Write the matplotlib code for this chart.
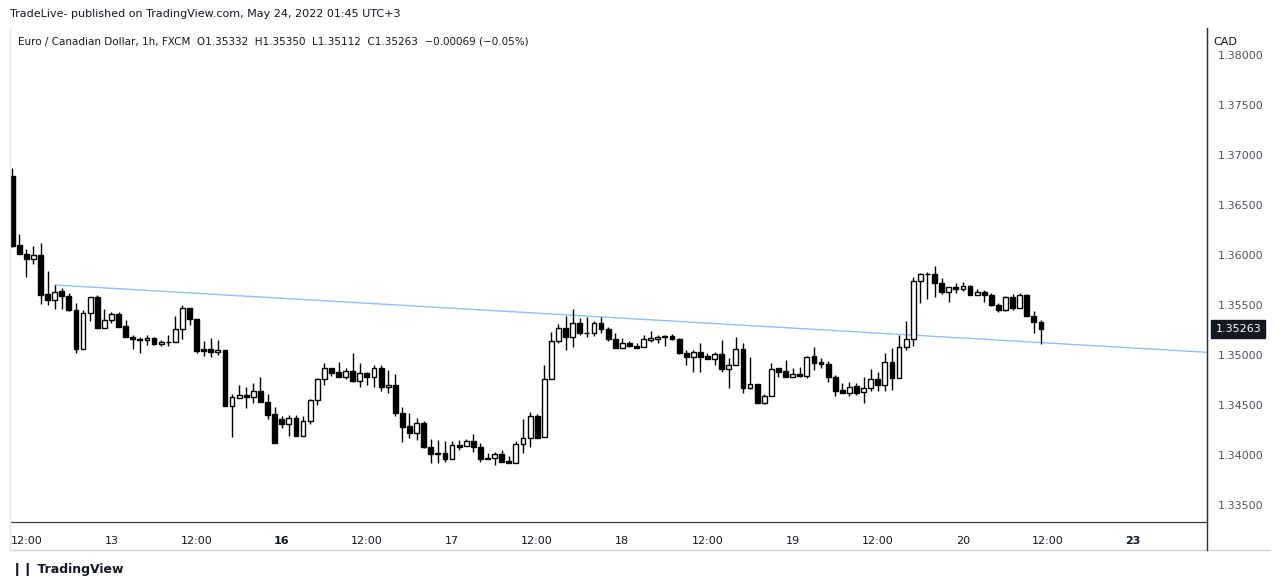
import matplotlib
matplotlib.use("Agg")
import matplotlib.pyplot as plt
import numpy as np

# OHLC, hourly candles from May 12 10:00 (trading hours only)
opens = [1.3679,1.3610,1.3601,1.3596,1.3600,1.3561,1.3555,1.3564,1.3559,1.3545,
         1.3506,1.3542,1.3558,1.3527,1.3535,1.3541,1.3529,1.3518,1.3516,1.3515,
         1.3517,1.3511,1.3513,1.3513,1.3526,1.3547,1.3536,1.3506,1.3506,1.3503,
         1.3505,1.3449,1.3457,1.3460,1.3458,1.3464,1.3453,1.3441,1.3436,1.3431,
         1.3437,1.3419,1.3434,1.3455,1.3476,1.3487,1.3483,1.3478,1.3484,1.3474,
         1.3482,1.3478,1.3487,1.3468,1.3470,1.3442,1.3429,1.3422,1.3432,1.3408,
         1.3402,1.3402,1.3396,1.3410,1.3409,1.3414,1.3408,1.3397,1.3397,1.3401,
         1.3394,1.3392,1.3411,1.3417,1.3439,1.3418,1.3476,1.3514,1.3527,1.3518,
         1.3532,1.3522,1.3522,1.3532,1.3526,1.3516,1.3507,1.3512,1.3509,1.3508,
         1.3515,1.3516,1.3519,1.3519,1.3516,1.3502,1.3498,1.3503,1.3499,1.3496,
         1.3501,1.3486,1.3490,1.3506,1.3467,1.3471,1.3452,1.3459,1.3487,1.3484,
         1.3478,1.3481,1.3479,1.3499,1.3493,1.3491,1.3478,1.3465,1.3462,1.3469,
         1.3463,1.3467,1.3476,1.3470,1.3493,1.3477,1.3508,1.3516,1.3574,1.3581,
         1.3581,1.3572,1.3563,1.3568,1.3566,1.3569,1.3560,1.3563,1.3560,1.3550,
         1.3545,1.3558,1.3547,1.3560,1.3539,1.35332]
highs = [1.3687,1.3621,1.3606,1.3609,1.3612,1.3584,1.3570,1.3567,1.3562,1.3552,
         1.3545,1.3558,1.3560,1.3546,1.3543,1.3543,1.3535,1.3520,1.3518,1.3520,
         1.3518,1.3515,1.3520,1.3539,1.3550,1.3547,1.3536,1.3514,1.3517,1.3515,
         1.3505,1.3461,1.3470,1.3468,1.3472,1.3478,1.3461,1.3448,1.3439,1.3440,
         1.3440,1.3439,1.3456,1.3477,1.3492,1.3487,1.3493,1.3487,1.3502,1.3492,
         1.3483,1.3490,1.3490,1.3485,1.3481,1.3448,1.3442,1.3437,1.3434,1.3416,
         1.3415,1.3414,1.3414,1.3415,1.3416,1.3421,1.3412,1.3402,1.3403,1.3405,
         1.3399,1.3414,1.3436,1.3443,1.3441,1.3490,1.3523,1.3531,1.3539,1.3546,
         1.3537,1.3538,1.3534,1.3538,1.3528,1.3522,1.3517,1.3514,1.3512,1.3520,
         1.3524,1.3520,1.3520,1.3521,1.3517,1.3505,1.3505,1.3512,1.3502,1.3503,
         1.3515,1.3497,1.3518,1.3512,1.3498,1.3471,1.3461,1.3492,1.3487,1.3495,
         1.3487,1.3488,1.3499,1.3508,1.3497,1.3494,1.3480,1.3472,1.3473,1.3472,
         1.3478,1.3486,1.3483,1.3502,1.3507,1.3520,1.3534,1.3578,1.3582,1.3583,
         1.3589,1.3577,1.3568,1.3572,1.3573,1.3570,1.3566,1.3565,1.3562,1.3552,
         1.3559,1.3561,1.3562,1.3561,1.3544,1.35350]
lows = [1.3608,1.3601,1.3578,1.3591,1.3551,1.3550,1.3546,1.3546,1.3544,1.3502,
        1.3506,1.3534,1.3527,1.3527,1.3532,1.3528,1.3518,1.3506,1.3502,1.3510,
        1.3510,1.3509,1.3509,1.3513,1.3516,1.3530,1.3502,1.3499,1.3498,1.3500,
        1.3449,1.3418,1.3457,1.3447,1.3452,1.3453,1.3436,1.3412,1.3427,1.3419,
        1.3419,1.3419,1.3431,1.3450,1.3470,1.3479,1.3478,1.3476,1.3473,1.3468,
        1.3470,1.3468,1.3464,1.3462,1.3439,1.3413,1.3417,1.3415,1.3407,1.3392,
        1.3392,1.3393,1.3396,1.3405,1.3409,1.3403,1.3393,1.3396,1.3390,1.3393,
        1.3392,1.3392,1.3402,1.3408,1.3417,1.3418,1.3476,1.3512,1.3505,1.3508,
        1.3520,1.3518,1.3519,1.3522,1.3514,1.3507,1.3507,1.3508,1.3507,1.3508,
        1.3513,1.3512,1.3509,1.3515,1.3501,1.3490,1.3483,1.3483,1.3496,1.3490,
        1.3483,1.3467,1.3490,1.3462,1.3466,1.3452,1.3451,1.3459,1.3478,1.3478,
        1.3478,1.3478,1.3477,1.3485,1.3487,1.3473,1.3459,1.3462,1.3459,1.3460,
        1.3452,1.3464,1.3464,1.3464,1.3465,1.3477,1.3505,1.3509,1.3552,1.3556,
        1.3558,1.3561,1.3553,1.3562,1.3564,1.3560,1.3560,1.3553,1.3549,1.3543,
        1.3544,1.3545,1.3547,1.3539,1.3522,1.35112]
closes = [1.3609,1.3601,1.3596,1.3600,1.3560,1.3555,1.3563,1.3559,1.3545,1.3506,
          1.3542,1.3558,1.3527,1.3535,1.3541,1.3528,1.3518,1.3516,1.3515,1.3517,
          1.3511,1.3513,1.3513,1.3526,1.3547,1.3536,1.3504,1.3504,1.3503,1.3505,
          1.3449,1.3458,1.3460,1.3458,1.3464,1.3453,1.3440,1.3412,1.3431,1.3437,
          1.3419,1.3434,1.3455,1.3476,1.3487,1.3482,1.3478,1.3484,1.3474,1.3482,
          1.3478,1.3487,1.3468,1.3470,1.3442,1.3428,1.3422,1.3432,1.3408,1.3401,
          1.3401,1.3396,1.3410,1.3408,1.3414,1.3408,1.3396,1.3396,1.3401,1.3393,
          1.3392,1.3411,1.3417,1.3439,1.3417,1.3476,1.3514,1.3527,1.3518,1.3532,
          1.3522,1.3522,1.3532,1.3526,1.3516,1.3507,1.3512,1.3509,1.3507,1.3516,
          1.3517,1.3518,1.3518,1.3516,1.3502,1.3498,1.3503,1.3498,1.3496,1.3501,
          1.3486,1.3490,1.3506,1.3467,1.3471,1.3452,1.3459,1.3486,1.3483,1.3478,
          1.3481,1.3479,1.3498,1.3492,1.3491,1.3478,1.3464,1.3462,1.3468,1.3462,
          1.3467,1.3476,1.3470,1.3493,1.3477,1.3508,1.3516,1.3574,1.3581,1.3581,
          1.3572,1.3563,1.3568,1.3566,1.3569,1.3560,1.3563,1.3560,1.3550,1.3545,
          1.3558,1.3547,1.3560,1.3539,1.3533,1.35263]

trend_x = [6, 168.4]
trend_y = [1.3570, 1.35027]

tick_pos = [2, 14, 26, 38, 50, 62, 74, 86, 98, 110, 122, 134, 146, 158]
tick_lbl = ["12:00", "13", "12:00", "16", "12:00", "17", "12:00", "18",
            "12:00", "19", "12:00", "20", "12:00", "23"]
bold_lbl = {"16", "23"}
price_ticks = [1.335, 1.340, 1.345, 1.350, 1.355, 1.360, 1.365, 1.370, 1.375, 1.380]

W, H = 1280, 587
fig = plt.figure(figsize=(12.8, 5.87), dpi=100)
ax = fig.add_axes([10 / W, 1 - 522 / H, 1197 / W, 494 / H])
ax.set_xlim(-0.3, 168.4)
ax.set_ylim(1.3333, 1.3827)

o = np.array(opens); h = np.array(highs); l = np.array(lows); c = np.array(closes)
x = np.arange(len(o))
ax.vlines(x, l, h, color="black", lw=1, zorder=2)
up = c >= o
bot = np.minimum(o, c)
hgt = np.maximum(np.abs(c - o), 0.00004)
ax.bar(x[up], hgt[up], bottom=bot[up], width=0.68, facecolor="white",
       edgecolor="black", linewidth=1, zorder=3)
ax.bar(x[~up], hgt[~up], bottom=bot[~up], width=0.68, facecolor="black",
       edgecolor="black", linewidth=1, zorder=3)
ax.plot(trend_x, trend_y, color="#90bff9", lw=1, zorder=1)

for s in ["top", "left"]:
    ax.spines[s].set_visible(False)
ax.spines["bottom"].set_color("#2a2e39")
ax.spines["right"].set_color("#2a2e39")
ax.yaxis.tick_right()
ax.set_yticks(price_ticks)
ax.set_yticklabels([f"{p:.5f}" for p in price_ticks])
ax.tick_params(axis="y", length=0, pad=8, labelsize=8, labelcolor="#50535e")
ax.set_xticks(tick_pos)
ax.set_xticklabels(tick_lbl)
for t in ax.get_xticklabels():
    if t.get_text() in bold_lbl:
        t.set_fontweight("bold")
ax.tick_params(axis="x", length=0, pad=10, labelsize=8, labelcolor="#131722")

# price label
ax.annotate("1.35263", xy=(1.0, closes[-1]), xycoords=("axes fraction", "data"),
            xytext=(6, 0), textcoords="offset points", va="center", ha="left",
            fontsize=8, color="white",
            bbox=dict(boxstyle="square,pad=0.35", fc="#131722", ec="#131722"))

fig.text(1213 / W, 1 - 42 / H, "CAD", fontsize=8, color="#131722", va="center",
         bbox=dict(fc="white", ec="none", pad=2))
fig.text(10 / W, 1 - 14 / H, "TradeLive- published on TradingView.com, May 24, 2022 01:45 UTC+3",
         fontsize=8, color="#131722", va="center")
fig.text(18 / W, 1 - 42 / H,
         "Euro / Canadian Dollar, 1h, FXCM  O1.35332  H1.35350  L1.35112  C1.35263  \u22120.00069 (\u22120.05%)",
         fontsize=7.5, color="#131722", va="center")
fig.text(12 / W, 1 - 570 / H, "\u2759\u2759 TradingView", fontsize=9, color="#131722",
         va="center", fontweight="bold")

# frame lines
fig.add_artist(plt.Line2D([10 / W, 1270 / W], [1 - 550 / H] * 2, color="#d1d4dc", lw=1))
fig.add_artist(plt.Line2D([1207 / W, 1207 / W], [1 - 550 / H, 1 - 28 / H], color="#2a2e39", lw=1))
fig.add_artist(plt.Line2D([10 / W, 10 / W], [1 - 550 / H, 1 - 28 / H], color="#e0e3eb", lw=1))

fig.savefig("out.png", dpi=100)
